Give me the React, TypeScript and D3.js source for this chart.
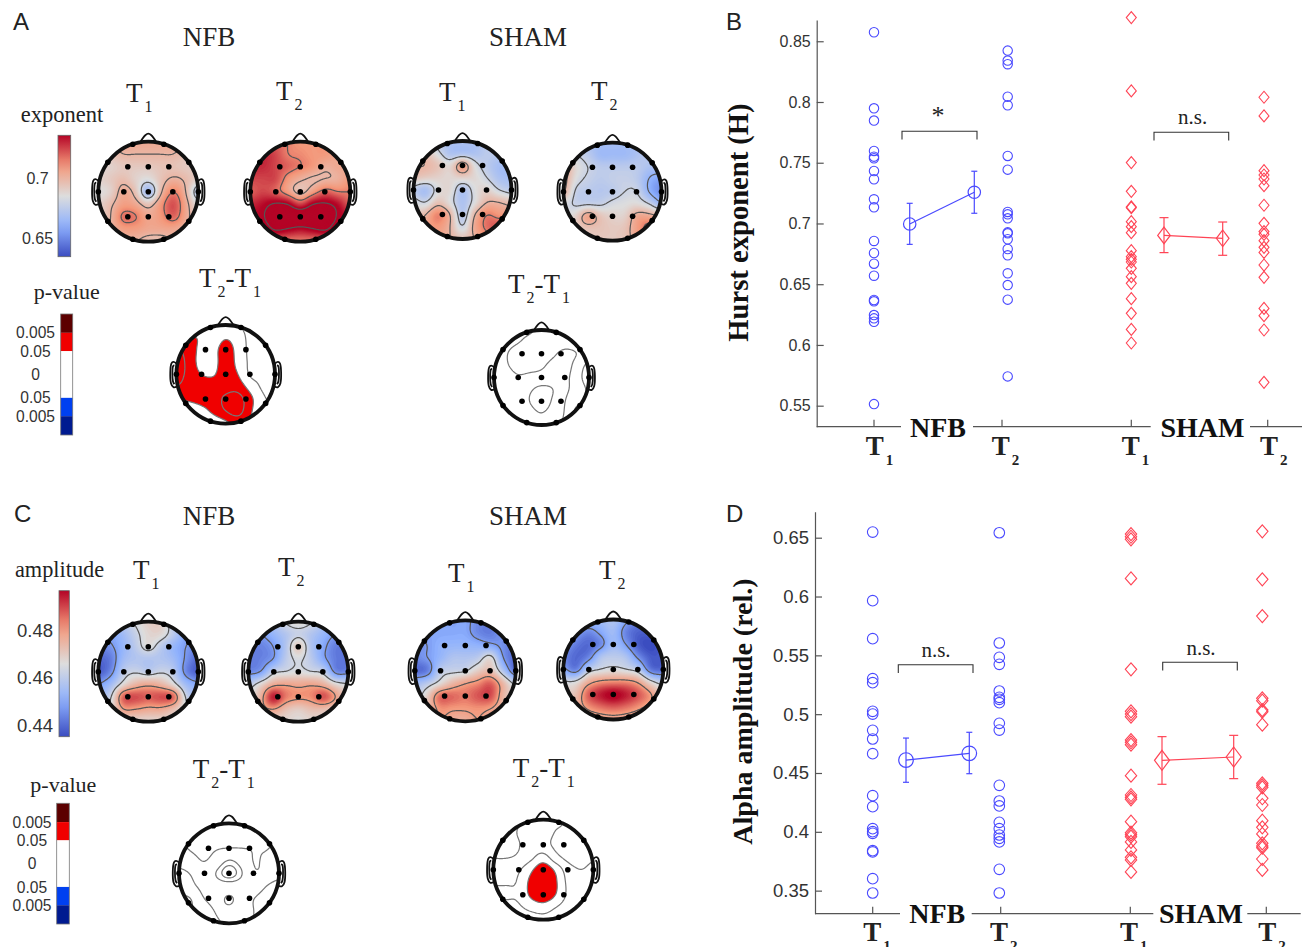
import React, { useEffect, useRef } from "react";
import * as d3 from "d3";

// values

const tickHurst = [0.55, 0.6, 0.65, 0.7, 0.75, 0.8, 0.85];
const tickAlpha = [0.35, 0.4, 0.45, 0.5, 0.55, 0.6, 0.65];

const hurstNfbT1 = [0.8574, 0.7948, 0.7847, 0.7597, 0.755, 0.7536, 0.7432, 0.7364, 0.7199, 0.7133, 0.6856, 0.6757, 0.6669, 0.657, 0.637, 0.6359, 0.6246, 0.6219, 0.6191, 0.5513];
const hurstNfbT2 = [0.8423, 0.8341, 0.8311, 0.8044, 0.7973, 0.7556, 0.7443, 0.7095, 0.7075, 0.7042, 0.6927, 0.6919, 0.687, 0.679, 0.6738, 0.659, 0.6493, 0.6373, 0.5741];
const hurstShamT1 = [0.8695, 0.8091, 0.7501, 0.7265, 0.7136, 0.713, 0.7015, 0.6974, 0.6924, 0.6776, 0.6727, 0.6705, 0.6683, 0.6631, 0.6562, 0.6507, 0.6381, 0.626, 0.6128, 0.6016];
const hurstShamT2 = [0.8039, 0.7885, 0.7435, 0.7399, 0.7366, 0.7311, 0.715, 0.7001, 0.6933, 0.6911, 0.6858, 0.6804, 0.6762, 0.6658, 0.6557, 0.6301, 0.6241, 0.6123, 0.5692];
// mean, upper, lower
const hurstNfbMeans = [[0.6996, 0.7166, 0.6828], [0.7257, 0.743, 0.7084]];
const hurstShamMeans = [[0.6902, 0.7048, 0.676], [0.6878, 0.7012, 0.6738]];

const alphaNfbT1 = [0.6548, 0.5965, 0.5642, 0.5302, 0.5268, 0.5024, 0.5001, 0.4863, 0.4789, 0.4664, 0.4307, 0.4214, 0.4027, 0.4001, 0.3987, 0.384, 0.3829, 0.3602, 0.348];
const alphaNfbT2 = [0.6542, 0.5605, 0.5483, 0.5424, 0.5197, 0.5143, 0.5126, 0.5098, 0.4922, 0.4865, 0.4395, 0.4262, 0.422, 0.4081, 0.4027, 0.3973, 0.3945, 0.3914, 0.3681, 0.348];
const alphaShamT1 = [0.6531, 0.6508, 0.6486, 0.6154, 0.5381, 0.5024, 0.5001, 0.4979, 0.478, 0.4761, 0.4741, 0.4477, 0.4313, 0.4293, 0.4276, 0.4086, 0.3993, 0.3976, 0.3959, 0.3914, 0.3846, 0.3783, 0.3761, 0.3659];
const alphaShamT2 = [0.6554, 0.6146, 0.5834, 0.5135, 0.5115, 0.5035, 0.5021, 0.4911, 0.4412, 0.4395, 0.4378, 0.4285, 0.4228, 0.4095, 0.4038, 0.3982, 0.3902, 0.388, 0.3865, 0.3769, 0.3676];
const alphaNfbMeans = [[0.461, 0.4797, 0.4421], [0.4667, 0.4846, 0.4494]];
const alphaShamMeans = [[0.4608, 0.4809, 0.4404], [0.4636, 0.482, 0.4452]];

// scalp maps: 9x9 samples across the head, exponent x 100
const expNfbT1 = [
  [70, 70, 70.5, 70.5, 70.5, 70.5, 70.5, 70, 70],
  [69, 69.5, 70, 70, 70, 70, 70, 69.5, 69],
  [68.8, 69, 69.3, 69.3, 69.3, 69.5, 69.5, 69.3, 69],
  [69, 69.3, 69.7, 69, 68.5, 69.5, 70.2, 69.8, 69],
  [68.5, 69, 70.5, 69.5, 66.5, 69.8, 71.5, 70, 67],
  [69, 69.8, 70.8, 70.5, 69.5, 71, 72.4, 70.5, 68.5],
  [69, 70, 71.8, 71.6, 70.5, 71, 72, 70.5, 69],
  [69, 70, 70.8, 70.8, 70.5, 70.5, 70.5, 70, 69],
  [69, 69.5, 70, 70, 69.5, 69.5, 70, 69.5, 69],
];
const expNfbT2 = [
  [72, 72, 72, 71.5, 71, 71, 71, 71, 71],
  [73, 73, 72.5, 71.5, 71.3, 71, 71, 70.5, 70.5],
  [73, 73, 72.5, 72, 71.5, 71, 70.2, 70.5, 70.5],
  [72.5, 72.5, 72.5, 71, 70.2, 69.8, 70, 70.2, 71],
  [72, 72.5, 72, 70.8, 69.5, 70.8, 72, 71.5, 71.5],
  [73, 73.5, 74.2, 74, 72.5, 74, 74.2, 73.5, 72],
  [73.5, 73.8, 75.5, 75.5, 75.5, 75.5, 75.5, 73.8, 73.5],
  [73, 73, 74.2, 73.9, 73.5, 73.9, 74.2, 73, 73],
  [72, 72, 71.8, 71.5, 71.5, 71.5, 71.8, 72, 72],
];
const expShamT1 = [
  [68.5, 68, 67.5, 67, 67, 67, 67.5, 68, 68],
  [69.5, 69.5, 68.3, 67, 67, 67, 67.5, 67.5, 67.5],
  [70, 70, 69.5, 68.8, 71, 68.5, 67.5, 66.8, 66.8],
  [69.5, 69.2, 69, 68.8, 69, 68.8, 68, 67, 66.8],
  [67.5, 66.8, 68.5, 68.8, 67, 68.5, 69, 68, 67.5],
  [68.5, 68, 69.5, 68.5, 67, 68.5, 70, 70, 69.5],
  [69, 70, 71.5, 70, 67.2, 70, 71.5, 71, 71],
  [69, 70.5, 71, 70, 68, 70.5, 71.8, 72.3, 72],
  [69, 70, 70.5, 70, 69.5, 70, 71, 71, 71],
];
const expShamT2 = [
  [68, 67.5, 67, 66.8, 66.8, 66.8, 67, 67.5, 68],
  [68, 68, 67.5, 66.6, 66.6, 66.6, 67, 67.5, 67.5],
  [70.5, 68.8, 68, 67.5, 67.5, 67.5, 67.5, 67, 67],
  [70.5, 68.5, 67.8, 67.5, 67.7, 67.8, 67.5, 66.2, 65.6],
  [70.2, 67.8, 67.5, 67.3, 67.5, 68, 68, 66.2, 65.2],
  [68.5, 67.8, 67.8, 67.8, 68.3, 68.5, 68.7, 68, 66.5],
  [68.5, 69, 70.8, 69.5, 69, 69, 70.5, 70.5, 70],
  [69, 69.2, 69.5, 69.5, 69.3, 69.5, 70.8, 72, 72],
  [69, 69.3, 69.3, 69.3, 69.3, 69.5, 70.5, 71, 71],
];

// amplitude x 100
const ampNfbT1 = [
  [45, 45.5, 46, 46.5, 47, 47, 46, 45.5, 45],
  [45, 45, 45.5, 46.2, 46.8, 46.8, 46, 45, 45],
  [44.5, 44.7, 45.3, 46, 46.7, 46, 45.3, 44.8, 44.5],
  [44, 44.3, 45.5, 45.8, 45.8, 45.8, 45.5, 44.7, 44],
  [43.8, 44.5, 46, 46.3, 46, 46.3, 46, 44.5, 43.8],
  [44.8, 45.5, 46.7, 47.5, 47.8, 47.5, 46.7, 45.5, 45],
  [45.5, 46.3, 48.8, 49, 48.8, 49, 48.8, 46.3, 45.5],
  [46, 46.6, 48, 48, 47.8, 47.8, 47.3, 46.5, 46],
  [46.5, 46.7, 46.8, 46.8, 46.8, 46.8, 46.8, 46.7, 46.5],
];
const ampNfbT2 = [
  [45, 45.3, 45.8, 46.5, 46.8, 46.5, 45.8, 45.3, 45],
  [44.8, 44.8, 45.3, 45.8, 46.2, 45.8, 45.3, 44.8, 44.8],
  [44.5, 44.4, 44.8, 45.8, 47.2, 45.8, 45, 44.3, 44.3],
  [44.3, 44.4, 44.8, 46, 46.5, 46, 45, 44.3, 44.2],
  [44.5, 44.8, 46.2, 46.4, 46.6, 46.4, 46.2, 44.5, 44.5],
  [46, 46.8, 47.7, 47.9, 47.8, 47.9, 47.6, 46.8, 46.5],
  [46.5, 47.6, 49.6, 48.5, 48.2, 48.3, 49, 48, 46.8],
  [46.5, 47.6, 48, 47.3, 47, 47.3, 47.3, 47, 46.7],
  [46.5, 46.8, 46.8, 46.8, 46.7, 46.8, 46.8, 46.7, 46.5],
];
const ampShamT1 = [
  [45.5, 45.5, 45.2, 44.9, 45, 44.5, 44.4, 45, 45],
  [45, 45, 45, 45, 45, 44.5, 44.3, 44.8, 44.8],
  [44.6, 44.8, 45.2, 45.3, 45.3, 45.2, 45, 44.6, 44.2],
  [44.5, 44.8, 45.3, 45.8, 45.8, 46, 46.8, 44.8, 44],
  [44, 44.3, 46, 46.2, 46.3, 47, 47.3, 45.8, 44],
  [45.5, 46, 46.7, 47.5, 48, 48.3, 48.8, 47.5, 46.2],
  [46, 47, 48.7, 48.7, 48.5, 48.9, 49, 47.5, 46.8],
  [46.8, 47.3, 48.2, 48.1, 48.1, 48.2, 48, 47.4, 47],
  [47, 47.2, 48, 47.6, 47.6, 48, 47.5, 47.2, 47],
];
const ampShamT2 = [
  [46, 46, 45.5, 45.5, 45.8, 45, 44.4, 44.5, 45],
  [45.5, 45, 44.5, 45, 45.5, 44.4, 43.9, 44, 44.5],
  [45, 44.3, 44, 44.5, 45.5, 44.8, 43.8, 43.5, 44],
  [44.5, 44, 44.4, 45.8, 46, 45.8, 44.6, 43.8, 43.8],
  [45, 44.3, 46, 46.4, 46.6, 46.4, 46, 44.2, 44],
  [46.5, 46.6, 47.7, 48.2, 48.3, 48.3, 47.9, 46.7, 46],
  [47, 47.3, 48.8, 49.5, 49.9, 49.5, 48.9, 48.1, 47],
  [47, 47.5, 48.2, 48.6, 48.8, 48.6, 48.2, 47.7, 47],
  [47, 47.2, 47.4, 47.6, 47.7, 47.6, 47.4, 47.2, 47],
];

// T2-T1 maps, in units where 1.4 is p=0.05 and 2.5 is p=0.005
const diffExpNfb = [
  [0.8, 0.8, 1, 1, 0.8, 0.7, 0.6, 0.5, 0.5],
  [1.5, 1.5, 1.3, 0.8, 1.3, 0.9, 0.6, 0.5, 0.4],
  [2.2, 1.8, 1.2, 1, 2, 1, 0.6, 0.3, 0.3],
  [2.4, 1.9, 1.1, 1, 2, 1.1, 0.6, 0.4, 0.4],
  [2.4, 1.9, 1.4, 1.3, 1.9, 1.4, 0.6, 0.6, 0.7],
  [2.1, 1.8, 1.8, 1.8, 1.9, 1.8, 1.1, 0.6, 0.6],
  [1.4, 1.6, 1.8, 1.9, 2.2, 2.4, 1.6, 0.8, 0.6],
  [0.3, 0.5, 1, 1.6, 2.1, 2.4, 1.5, 0.9, 0.8],
  [0.2, 0.3, 0.5, 0.8, 1.2, 1.6, 1.3, 1, 0.8],
];
const diffExpSham = [
  [-0.2, -0.2, -0.2, -0.1, 0.15, 0.2, 0.2, 0.2, 0.2],
  [-0.2, -0.2, -0.05, 0.2, 0.3, 0.3, 0.3, 0.3, 0.3],
  [-0.2, -0.05, 0.3, 0.3, 0.3, 0.1, -0.2, 0, 0.3],
  [-0.3, -0.1, 0.3, 0.25, 0.1, -0.2, -0.3, 0.3, 0.9],
  [-0.4, -0.4, -0.1, -0.2, -0.25, -0.3, -0.2, 0.45, 1],
  [-0.4, -0.4, -0.4, -0.6, -0.9, -0.7, -0.15, 0.3, 0.8],
  [-0.4, -0.4, -0.4, -0.7, -1.2, -0.55, 0, 0.55, 0.75],
  [-0.3, -0.3, -0.3, -0.4, -0.7, -0.3, 0.05, 0.9, 0.9],
  [-0.2, -0.2, -0.2, -0.2, -0.3, -0.1, 0.1, 0.5, 0.7],
];
const diffAmpNfb = [
  [0.3, 0.3, 0.3, 0.3, 0.3, 0.3, 0.3, 0.3, 0.3],
  [0.2, 0.2, 0.2, 0.2, 0.2, 0.2, 0.2, 0.2, 0],
  [-0.1, 0.05, 0.1, 0.03, 0, 0, 0.02, 0.03, -0.15],
  [-0.3, -0.15, 0.02, -0.2, -0.65, -0.35, 0.03, -0.1, -0.25],
  [-0.8, -0.55, -0.2, -0.65, -1.2, -0.65, -0.05, -0.15, -0.35],
  [-0.9, -0.7, -0.45, -0.35, -0.35, -0.35, -0.3, -0.6, -0.85],
  [-0.9, -0.9, -0.6, -0.4, -0.7, -0.4, -0.6, -0.8, -0.9],
  [-0.9, -0.9, -0.85, -0.55, -0.5, -0.45, -0.6, -0.85, -0.9],
  [-0.9, -0.9, -0.85, -0.65, -0.55, -0.45, -0.6, -0.85, -0.9],
];
const diffAmpSham = [
  [0, -0.2, -0.1, 0.2, 0.3, 0.2, -0.1, -0.2, -0.2],
  [-0.3, -0.3, 0.05, 0.3, 0.4, -0.05, -0.1, -0.4, -0.4],
  [-0.3, -0.3, -0.05, 0.3, 0.25, -0.15, -0.1, -0.4, -0.4],
  [-0.05, -0.05, 0.1, 0.5, 1, 0.2, -0.2, -0.3, -0.1],
  [0.5, 0.5, 0.6, 1.25, 1.9, 1.25, 0.3, 0, 0.2],
  [0.65, 0.65, 0.75, 1.6, 2, 1.5, 0.5, 0.25, 0.3],
  [0.8, 0.8, 0.8, 1.55, 2, 1.4, 0.55, 0.4, 0.3],
  [0.5, 0.5, 0.6, 0.9, 1.05, 0.7, 0.4, 0.3, 0.2],
  [0.3, 0.3, 0.3, 0.4, 0.5, 0.4, 0.3, 0.2, 0.2],
];

const expLines = [68, 70, 71.5, 74];
const ampLines = [44.8, 46.4, 48];

// 19 channel montage on the unit head
const electrodes = [
  [-0.41, -0.5], [0, -0.5], [0.41, -0.5],
  [-0.49, 0], [0, 0], [0.49, 0],
  [-0.41, 0.5], [0, 0.5], [0.41, 0.5],
  [-0.31, -0.95], [0.31, -0.95], [-0.81, -0.59], [0.81, -0.59],
  [-1, 0], [1, 0], [-0.81, 0.59], [0.81, 0.59], [-0.31, 0.95], [0.31, 0.95],
];

const SERIF = "'Liberation Serif', serif";
const SANS = "'Liberation Sans', sans-serif";
const BLUE = "#4a4aff";
const RED = "#ff4455";
const TEXT = "#222";

const coolwarm = (lo: number, hi: number) =>
  d3.scaleLinear<string>()
    .domain([lo, lo + (hi - lo) * 0.25, (lo + hi) / 2, lo + (hi - lo) * 0.75, hi])
    .range(["#3b4cc0", "#8db0fe", "#dddddd", "#f4987a", "#b40426"])
    .clamp(true);

const expColor = coolwarm(63.44, 73.56);
const ampColor = coolwarm(43.52, 49.65);

let clipId = 0;

// catmull-rom through four neighbours
function cubic(a: number, b: number, c: number, d: number, t: number) {
  return 0.5 * (2 * b + (c - a) * t + (2 * a - 5 * b + 4 * c - d) * t * t + (3 * b - a - 3 * c + d) * t * t * t);
}

function field(grid: number[][]) {
  const n = 101;
  const data = new Float64Array(n * n);
  const at = (r: number[], i: number) => r[Math.max(0, Math.min(8, i))];
  const line = (r: number[], x0: number, t: number) => cubic(at(r, x0 - 1), at(r, x0), at(r, x0 + 1), at(r, x0 + 2), t);
  for (let j = 0; j < n; j++) {
    for (let i = 0; i < n; i++) {
      const gx = (i / (n - 1)) * 8, gy = (j / (n - 1)) * 8;
      const x0 = Math.min(Math.floor(gx), 7), y0 = Math.min(Math.floor(gy), 7);
      const row = (k: number) => line(grid[Math.max(0, Math.min(8, k))], x0, gx - x0);
      data[j * n + i] = cubic(row(y0 - 1), row(y0), row(y0 + 1), row(y0 + 2), gy - y0);
    }
  }
  d3.blur2({ data, width: n, height: n }, 1.5);
  return { data, n };
}

function drawHead(svg: any, cx: number, cy: number, r: number, grid: number[][], fills: (g: any, path: any, f: any) => void, lines: number[], lineColor: string) {
  const f = field(grid);
  const id = "head" + clipId++;
  const px = d3.scaleLinear().domain([0.5, f.n - 0.5]).range([cx - r, cx + r]);
  const py = d3.scaleLinear().domain([0.5, f.n - 0.5]).range([cy - r, cy + r]);
  const path = d3.geoPath(d3.geoTransform({
    point(x: number, y: number) { (this as any).stream.point(px(x), py(y)); },
  }));
  svg.append("clipPath").attr("id", id).append("circle").attr("cx", cx).attr("cy", cy).attr("r", r);
  const g = svg.append("g").attr("clip-path", `url(#${id})`);
  fills(g, path, f);
  const cont = d3.contours().size([f.n, f.n]).smooth(true).thresholds(lines)(f.data as any);
  g.selectAll("path.line").data(cont).enter().append("path")
    .attr("class", "line")
    .attr("d", (d: any) => path(d))
    .attr("fill", "none").attr("stroke", lineColor).attr("stroke-width", 1.2);

  const sx = d3.scaleLinear().domain([-1, 1]).range([cx - r, cx + r]);
  const sy = d3.scaleLinear().domain([-1, 1]).range([cy - r, cy + r]);
  const outline = d3.line().x((d) => sx(d[0])).y((d) => sy(d[1])).curve(d3.curveCatmullRom);
  const shapes = [
    [[-0.17, -0.98], [-0.06, -1.13], [0, -1.16], [0.06, -1.13], [0.17, -0.98]],
  ];
  [-1, 1].forEach((side) => {
    shapes.push([[1, -0.22], [1.06, -0.25], [1.1, -0.22], [1.11, 0.18], [1.06, 0.26], [0.99, 0.25]].map((p) => [side * p[0], p[1]]));
    shapes.push([[1.04, -0.18], [1.065, -0.17], [1.07, 0.14], [1.04, 0.2]].map((p) => [side * p[0], p[1]]));
  });
  svg.append("g").selectAll("path").data(shapes).enter().append("path")
    .attr("d", (d: any) => outline(d))
    .attr("fill", "none").attr("stroke", "#111").attr("stroke-width", 1.8);
  svg.append("circle").attr("cx", cx).attr("cy", cy).attr("r", r)
    .attr("fill", "none").attr("stroke", "#111").attr("stroke-width", 3.8);
  svg.append("g").selectAll("circle").data(electrodes).enter().append("circle")
    .attr("cx", (d: number[]) => sx(d[0]))
    .attr("cy", (d: number[]) => sy(d[1]))
    .attr("r", 2.8).attr("fill", "#000");
}

function colorMap(svg: any, cx: number, cy: number, r: number, grid: number[][], color: any, lines: number[]) {
  const fills = (g: any, path: any, f: any) => {
    const [lo, hi] = d3.extent(f.data as any) as any;
    g.append("rect").attr("x", cx - r).attr("y", cy - r).attr("width", 2 * r).attr("height", 2 * r).attr("fill", color(lo));
    const bands = d3.contours().size([f.n, f.n]).smooth(true).thresholds(d3.range(lo, hi, 0.1))(f.data as any);
    g.selectAll("path.band").data(bands).enter().append("path")
      .attr("class", "band")
      .attr("d", (d: any) => path(d))
      .attr("fill", (d: any) => color(d.value));
  };
  drawHead(svg, cx, cy, r, grid, fills, lines, "#555");
}

function diffMap(svg: any, cx: number, cy: number, r: number, grid: number[][], lines: number[]) {
  const fills = (g: any, path: any, f: any) => {
    const bands = d3.contours().size([f.n, f.n]).smooth(true).thresholds([1.4, 2.5])(f.data as any);
    g.selectAll("path.band").data(bands).enter().append("path")
      .attr("class", "band")
      .attr("d", (d: any) => path(d))
      .attr("fill", (d: any) => (d.value > 2 ? "#800000" : "#f00000"));
  };
  drawHead(svg, cx, cy, r, grid, fills, lines, "#777");
}

// T with subscript, pieces like ["T", "2", "-", "T", "1"]
function label(svg: any, x: number, y: number, pieces: string[], opt: any = {}) {
  const size = opt.size || 27, subSize = opt.subSize || 16;
  const t = svg.append("text").attr("x", x).attr("y", y)
    .attr("font-family", SERIF).attr("font-size", size).attr("fill", TEXT)
    .attr("font-weight", opt.bold ? "bold" : "normal");
  let down = 0;
  pieces.forEach((p) => {
    const isSub = /[0-9]/.test(p);
    const dy = isSub ? 10 : 0;
    t.append("tspan").attr("dy", dy - down).attr("dx", isSub ? 2 : 0)
      .attr("font-size", isSub ? subSize : size).text(p);
    down = dy;
  });
}

function text(svg: any, x: number, y: number, str: string, family: string, size: number, opt: any = {}) {
  return svg.append("text").attr("x", x).attr("y", y).text(str)
    .attr("font-family", family).attr("font-size", size)
    .attr("text-anchor", opt.anchor || "middle")
    .attr("font-weight", opt.bold ? "bold" : "normal")
    .attr("fill", opt.fill || TEXT);
}

function colorBar(svg: any, x: number, w: number, scale: any, color: any, ticks: number[], labelX: number, size: number, fmt: (d: number) => string) {
  const id = "bar" + clipId++;
  const [lo, hi] = scale.domain();
  const grad = svg.append("linearGradient").attr("id", id).attr("x1", 0).attr("x2", 0).attr("y1", 1).attr("y2", 0);
  d3.range(0, 1.0001, 0.1).forEach((t: number) => {
    grad.append("stop").attr("offset", t).attr("stop-color", color(lo + (hi - lo) * t));
  });
  const [y1, y0] = scale.range();
  svg.append("rect").attr("x", x).attr("y", y0).attr("width", w).attr("height", y1 - y0)
    .attr("fill", `url(#${id})`).attr("stroke", "#666").attr("stroke-width", 0.8);
  ticks.forEach((t) => {
    text(svg, labelX, scale(t) + size * 0.36, fmt(t), SANS, size, { fill: "#333" });
  });
}

function pBar(svg: any, x: number, w: number, y0: number, y1: number, labelX: number) {
  const stat = d3.scaleLinear().domain([3.63, -3.63]).range([y0, y1]);
  const bands = [
    [3.63, 2.5, "#5c0000"], [2.5, 1.4, "#f00000"], [1.4, -1.4, "#ffffff"], [-1.4, -2.5, "#0040f0"], [-2.5, -3.63, "#001a90"],
  ];
  svg.append("g").selectAll("rect").data(bands).enter().append("rect")
    .attr("x", x).attr("width", w)
    .attr("y", (d: any) => stat(d[0]))
    .attr("height", (d: any) => stat(d[1]) - stat(d[0]))
    .attr("fill", (d: any) => d[2]);
  svg.append("rect").attr("x", x).attr("y", y0).attr("width", w).attr("height", y1 - y0)
    .attr("fill", "none").attr("stroke", "#777").attr("stroke-width", 0.8);
  const labels: [number, string][] = [[2.5, "0.005"], [1.4, "0.05"], [0, "0"], [-1.4, "0.05"], [-2.5, "0.005"]];
  labels.forEach(([v, s]) => {
    text(svg, labelX, stat(v) + 5.6, s, SANS, 15.6, { fill: "#333" });
  });
}

function diamond(w: number, h: number) {
  return d3.line()([[0, -h], [w, 0], [0, h], [-w, 0], [0, -h]]) + "Z";
}

function scatterPanel(svg: any, p: any) {
  const y = d3.scaleLinear().domain(p.domain).range(p.range);
  const x = d3.scaleOrdinal<string, number>().domain(p.slots).range(p.slotX);
  const axis = d3.axisLeft(y).tickValues(p.ticks).tickFormat((d: any) => String(d)).tickSizeOuter(0).tickSizeInner(-7).tickPadding(6);
  const ag = svg.append("g").attr("transform", `translate(${p.axisX},0)`).call(axis);
  ag.selectAll("path,line").attr("stroke", "#555").attr("stroke-width", 1.2);
  ag.selectAll("text").attr("font-family", SANS).attr("font-size", p.tickSize).attr("fill", "#333");

  const base = p.range[0];
  const segs = [[p.axisX, p.gaps[0]], [p.gaps[1], p.gaps[2]], [p.gaps[3], p.right]];
  svg.append("g").selectAll("line").data(segs).enter().append("line")
    .attr("x1", (d: number[]) => d[0]).attr("x2", (d: number[]) => d[1])
    .attr("y1", base).attr("y2", base)
    .attr("stroke", "#555").attr("stroke-width", 1.2);
  svg.append("g").selectAll("line").data(p.xTicks).enter().append("line")
    .attr("x1", (d: number) => d).attr("x2", (d: number) => d)
    .attr("y1", base).attr("y2", base - 7)
    .attr("stroke", "#555").attr("stroke-width", 1.2);

  const circles = (vals: number[], slot: string) => {
    svg.append("g").selectAll("circle").data(vals).enter().append("circle")
      .attr("cx", x(slot)).attr("cy", (d: number) => y(d)).attr("r", p.pointR)
      .attr("fill", "none").attr("stroke", BLUE).attr("stroke-width", 1.1);
  };
  const diamonds = (vals: number[], slot: string) => {
    svg.append("g").selectAll("path").data(vals).enter().append("path")
      .attr("transform", (d: number) => `translate(${x(slot)},${y(d)})`)
      .attr("d", diamond(p.dw, p.dh))
      .attr("fill", "none").attr("stroke", RED).attr("stroke-width", 1.1);
  };
  circles(p.nfb[0], "nfbT1");
  circles(p.nfb[1], "nfbT2");
  diamonds(p.sham[0], "shamT1");
  diamonds(p.sham[1], "shamT2");

  const means = (rows: number[][], slots: string[], color: string, cap: number, mark: (g: any, r: number[]) => void) => {
    const pts = rows.map((r, i) => [x(slots[i]), y(r[0])] as [number, number]);
    svg.append("path").attr("d", d3.line()(pts)).attr("fill", "none").attr("stroke", color).attr("stroke-width", 1.2);
    rows.forEach((r, i) => {
      const cx = x(slots[i]);
      const g = svg.append("g").attr("stroke", color).attr("stroke-width", 1.2);
      g.append("line").attr("x1", cx).attr("x2", cx).attr("y1", y(r[1])).attr("y2", y(r[2]));
      [r[1], r[2]].forEach((v) => g.append("line").attr("x1", cx - cap).attr("x2", cx + cap).attr("y1", y(v)).attr("y2", y(v)));
      const m = g.append("g").attr("transform", `translate(${cx},${y(r[0])})`);
      mark(m, r);
    });
  };
  means(p.nfbMeans, ["nfbM1", "nfbM2"], BLUE, 3, (m) => {
    m.append("circle").attr("r", p.meanR).attr("fill", "none");
  });
  means(p.shamMeans, ["shamM1", "shamM2"], RED, 4.5, (m) => {
    m.append("path").attr("d", diamond(p.mw, p.mh)).attr("fill", "none");
  });

  p.brackets.forEach((b: any) => {
    svg.append("path")
      .attr("d", d3.line()([[b.x0, b.y + 8.3], [b.x0, b.y], [b.x1, b.y], [b.x1, b.y + 8.3]]))
      .attr("fill", "none").attr("stroke", "#333").attr("stroke-width", 1.1);
    text(svg, b.tx, b.ty, b.text, SERIF, b.size);
  });

  text(svg, p.nfbX, p.groupY, "NFB", SERIF, 28, { bold: true, fill: "#111" });
  text(svg, p.shamX, p.groupY, "SHAM", SERIF, 28, { bold: true, fill: "#111" });
  p.tLabels.forEach((l: any) => label(svg, l.x, p.tY, ["T", l.n], { bold: true, size: 27, subSize: 15 }));

  text(svg, 0, 0, p.yLabel, SERIF, p.yLabelSize, { bold: true, fill: "#111" })
    .attr("transform", `translate(${p.yLabelX},${p.yLabelY}) rotate(-90)`);
}

export default function App() {
  const ref = useRef<SVGSVGElement>(null);

  useEffect(() => {
    const svg = d3.select(ref.current);
    svg.selectAll("*").remove();

    // panel letters
    text(svg, 13, 30, "A", SANS, 24, { anchor: "start" });
    text(svg, 726, 30, "B", SANS, 24, { anchor: "start" });
    text(svg, 14, 522, "C", SANS, 24, { anchor: "start" });
    text(svg, 726, 522, "D", SANS, 24, { anchor: "start" });

    // A
    text(svg, 209, 46, "NFB", SERIF, 27);
    text(svg, 528, 46, "SHAM", SERIF, 27);
    label(svg, 126, 102, ["T", "1"]);
    label(svg, 276, 100, ["T", "2"]);
    label(svg, 439, 100.7, ["T", "1"]);
    label(svg, 591, 100, ["T", "2"]);
    text(svg, 62, 122, "exponent", SERIF, 22.5);
    colorBar(svg, 58, 12.7, d3.scaleLinear().domain([63.44, 73.56]).range([256.7, 135.3]), expColor, [65, 70], 37.5, 16, (d) => String(d / 100));
    colorMap(svg, 148.3, 191.7, 50, expNfbT1, expColor, expLines);
    colorMap(svg, 300.3, 191.7, 50, expNfbT2, expColor, expLines);
    colorMap(svg, 462.5, 190, 49, expShamT1, expColor, expLines);
    colorMap(svg, 612.5, 191.7, 49, expShamT2, expColor, [66.3, ...expLines]);
    text(svg, 66.7, 299, "p-value", SERIF, 22);
    pBar(svg, 60.7, 12, 314, 435, 35.5);
    label(svg, 199, 287.3, ["T", "2", "-", "T", "1"]);
    label(svg, 508, 292.7, ["T", "2", "-", "T", "1"]);
    diffMap(svg, 225.7, 374.3, 49.3, diffExpNfb, [0.7, 1.4, 2.1]);
    diffMap(svg, 541.5, 377.5, 47.5, diffExpSham, [-0.7, 0, 0.7]);

    // C
    text(svg, 209, 525, "NFB", SERIF, 27);
    text(svg, 528, 525, "SHAM", SERIF, 27);
    label(svg, 133, 579, ["T", "1"]);
    label(svg, 278, 576, ["T", "2"]);
    label(svg, 448, 581.7, ["T", "1"]);
    label(svg, 599, 579, ["T", "2"]);
    text(svg, 59.5, 577, "amplitude", SERIF, 22.3);
    colorBar(svg, 59, 10.3, d3.scaleLinear().domain([43.52, 49.65]).range([736.7, 590.7]), ampColor, [44, 46, 48], 35, 18.5, (d) => String(d / 100));
    colorMap(svg, 148.3, 671.7, 50, ampNfbT1, ampColor, ampLines);
    colorMap(svg, 298.3, 671.7, 50, ampNfbT2, ampColor, ampLines);
    colorMap(svg, 465.3, 670.8, 50.5, ampShamT1, ampColor, ampLines);
    colorMap(svg, 613.3, 669.5, 50, ampShamT2, ampColor, ampLines);
    text(svg, 63.3, 791.7, "p-value", SERIF, 22);
    pBar(svg, 56.7, 12.6, 803.3, 924, 32);
    label(svg, 192.7, 778, ["T", "2", "-", "T", "1"]);
    label(svg, 512.7, 776.7, ["T", "2", "-", "T", "1"]);
    diffMap(svg, 229, 873.3, 50, diffAmpNfb, [-0.9, -0.6, 0]);
    diffMap(svg, 543.3, 869.7, 50, diffAmpSham, [0, 0.7, 1.4]);

    const slots = ["nfbT1", "nfbM1", "nfbM2", "nfbT2", "shamT1", "shamM1", "shamM2", "shamT2"];

    // B
    scatterPanel(svg, {
      domain: [0.5327, 0.8675], range: [426.7, 20], axisX: 816.7, right: 1302,
      ticks: tickHurst, tickSize: 16, slots,
      slotX: [874, 909.7, 974.3, 1007.7, 1131.3, 1164, 1222.7, 1264],
      gaps: [901, 973, 1150.7, 1250], xTicks: [874, 1002, 1131.3, 1267.7],
      nfb: [hurstNfbT1, hurstNfbT2], sham: [hurstShamT1, hurstShamT2],
      nfbMeans: hurstNfbMeans, shamMeans: hurstShamMeans,
      pointR: 4.7, meanR: 6.2, dw: 5, dh: 6, mw: 6.3, mh: 8.3,
      brackets: [
        { x0: 902, x1: 977, y: 131.3, text: "*", tx: 938, ty: 124, size: 26 },
        { x0: 1154, x1: 1228.7, y: 132.3, text: "n.s.", tx: 1192.7, ty: 124, size: 21 },
      ],
      nfbX: 938, shamX: 1202.5, groupY: 436.5, tY: 455,
      tLabels: [{ x: 865.7, n: "1" }, { x: 991.7, n: "2" }, { x: 1121.7, n: "1" }, { x: 1260, n: "2" }],
      yLabel: "Hurst exponent (H)", yLabelSize: 28.6, yLabelX: 748, yLabelY: 222.5,
    });

    // D
    scatterPanel(svg, {
      domain: [0.3304, 0.6721], range: [913.7, 511.7], axisX: 815, right: 1300.7,
      ticks: tickAlpha, tickSize: 18.5, slots,
      slotX: [872.7, 906, 969.3, 999.3, 1131, 1162, 1233.7, 1262.3],
      gaps: [900, 971.7, 1153.3, 1247.3], xTicks: [872.7, 1000.7, 1130.3, 1266.3],
      nfb: [alphaNfbT1, alphaNfbT2], sham: [alphaShamT1, alphaShamT2],
      nfbMeans: alphaNfbMeans, shamMeans: alphaShamMeans,
      pointR: 5.3, meanR: 7.3, dw: 5.7, dh: 6.5, mw: 7.5, mh: 10,
      brackets: [
        { x0: 898.3, x1: 973, y: 664.7, text: "n.s.", tx: 936, ty: 656.7, size: 21 },
        { x0: 1162.7, x1: 1237.3, y: 662.3, text: "n.s.", tx: 1201, ty: 654.7, size: 21 },
      ],
      nfbX: 937.3, shamX: 1201, groupY: 923.3, tY: 940.7,
      tLabels: [{ x: 863.3, n: "1" }, { x: 990, n: "2" }, { x: 1120, n: "1" }, { x: 1258.3, n: "2" }],
      yLabel: "Alpha amplitude (rel.)", yLabelSize: 28, yLabelX: 752, yLabelY: 711.5,
    });
  }, []);

  return (
    <svg ref={ref} width={1305} height={947} style={{ position: "absolute", left: 0, top: 0, display: "block", background: "#fff" }} />
  );
}
